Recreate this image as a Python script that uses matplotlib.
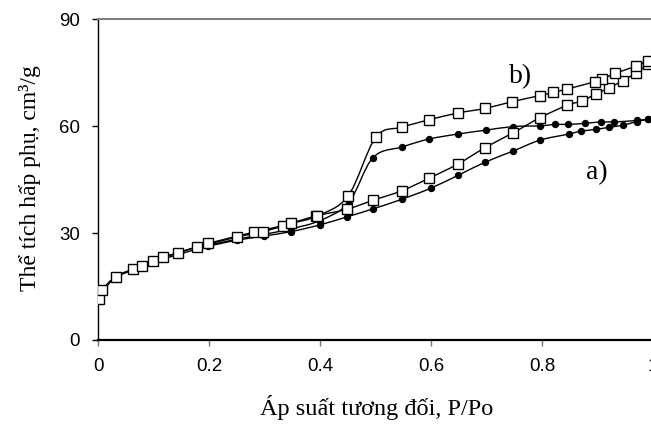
import numpy as np
import matplotlib
matplotlib.use("Agg")
import matplotlib.pyplot as plt
from matplotlib.path import Path
from matplotlib.patches import PathPatch

# sample a) - filled circles
a_ads_x = [0.003, 0.008, 0.031, 0.062, 0.099, 0.144, 0.198, 0.250, 0.299, 0.347, 0.399, 0.449, 0.495,
           0.547, 0.599, 0.648, 0.697, 0.747, 0.796, 0.848, 0.869, 0.896, 0.921, 0.946, 0.970, 0.990]
a_ads_y = [12.5, 13.8, 17.5, 19.6, 21.8, 24.0, 26.3, 28.0, 29.2, 30.4, 32.3, 34.6, 36.8,
           39.5, 42.6, 46.2, 49.9, 53.0, 56.1, 57.8, 58.6, 59.1, 59.7, 60.3, 61.3, 61.9]
a_des_x = [0.990, 0.970, 0.929, 0.905, 0.877, 0.847, 0.823, 0.796, 0.748, 0.699, 0.648, 0.596,
           0.548, 0.495, 0.451, 0.399, 0.347, 0.297, 0.250, 0.198]
a_des_y = [62.0, 61.6, 61.2, 61.2, 60.8, 60.5, 60.5, 60.1, 59.9, 58.9, 57.8, 56.4,
           54.2, 51.2, 38.5, 33.5, 31.2, 29.6, 28.3, 26.6]

# sample b) - open squares
b_ads_x = [0.002, 0.007, 0.031, 0.062, 0.099, 0.144, 0.198, 0.281, 0.332, 0.392, 0.448, 0.495, 0.547,
           0.596, 0.648, 0.697, 0.748, 0.796, 0.845, 0.872, 0.896, 0.921, 0.945, 0.969, 0.990]
b_ads_y = [11.4, 14.0, 17.8, 19.9, 22.2, 24.5, 27.1, 30.3, 32.1, 34.8, 36.7, 39.2, 41.9,
           45.4, 49.4, 54.0, 58.2, 62.4, 65.9, 67.1, 69.0, 70.8, 72.8, 75.0, 77.4]
b_des_x = [0.990, 0.969, 0.931, 0.907, 0.895, 0.844, 0.820, 0.796, 0.746, 0.697, 0.648, 0.596,
           0.547, 0.500, 0.450, 0.394, 0.348, 0.297, 0.250, 0.177, 0.117, 0.078]
b_des_y = [78.4, 76.9, 74.8, 73.2, 72.5, 70.4, 69.5, 68.6, 66.9, 65.0, 63.7, 61.8,
           59.7, 56.9, 40.4, 34.8, 32.7, 30.4, 28.9, 26.0, 23.2, 20.8]

x_ticks = [0, 0.2, 0.4, 0.6, 0.8, 1]
x_ticklabels = ["0", "0.2", "0.4", "0.6", "0.8", "1"]
y_ticks = [0, 30, 60, 90]


def smooth_path(xs, ys):
    # excel-like smoothed line (catmull-rom through the points)
    pts = np.column_stack([xs, ys])
    verts = [pts[0]]
    codes = [Path.MOVETO]
    n = len(pts)
    for i in range(n - 1):
        p0 = pts[i - 1] if i > 0 else pts[i]
        p1 = pts[i]
        p2 = pts[i + 1]
        p3 = pts[i + 2] if i + 2 < n else p2
        verts += [p1 + (p2 - p0) / 6, p2 - (p3 - p1) / 6, p2]
        codes += [Path.CURVE4] * 3
    return Path(verts, codes)


fig = plt.figure(figsize=(6.51, 4.28), dpi=100)
ax = fig.add_axes([98.3 / 651, 88 / 428, 555 / 651, 320.7 / 428])

for xs, ys in [(a_ads_x, a_ads_y), (a_des_x, a_des_y)]:
    ax.add_patch(PathPatch(smooth_path(xs, ys), fill=False, edgecolor='black', lw=1.0, zorder=2))
    ax.plot(xs, ys, ls='none', marker='o', ms=4.3, mfc='black', mec='black', zorder=3)

for xs, ys in [(b_ads_x, b_ads_y), (b_des_x, b_des_y)]:
    ax.add_patch(PathPatch(smooth_path(xs, ys), fill=False, edgecolor='black', lw=1.0, zorder=4))
    ax.plot(xs, ys, ls='none', marker='s', ms=6.8, mfc='white', mec='black', mew=1.0, zorder=5)

ax.set_xlim(0, 1)
ax.set_ylim(0, 90)
ax.set_xticks(x_ticks)
ax.set_xticklabels(x_ticklabels)
ax.set_yticks(y_ticks)

for lab in ax.get_xticklabels() + ax.get_yticklabels():
    lab.set_fontfamily('Liberation Sans')
    lab.set_fontsize(13.5)

ax.tick_params(axis='y', direction='out', length=4, width=1, colors='black', pad=9)
ax.tick_params(axis='x', direction='out', length=4, width=1, color='#777777', labelcolor='black', pad=9)

ax.spines['right'].set_visible(False)
ax.spines['top'].set_color('#808080')
ax.spines['top'].set_linewidth(1.5)
ax.spines['left'].set_linewidth(1.0)
ax.spines['bottom'].set_linewidth(1.6)

ax.set_xlabel("Áp suất tương đối, P/Po", fontfamily='Liberation Serif', fontsize=17.5)
ax.set_ylabel("Thể tích hấp phụ, cm³/g", fontfamily='Liberation Serif', fontsize=17)
ax.xaxis.set_label_coords(0.502, (340 - 408) / 320.7)
ax.xaxis.label.set_va('center')
ax.yaxis.set_label_coords((30 - 98.3) / 555, 0.504)
ax.yaxis.label.set_va('center')

ax.text(0.760, 73.8, "b)", fontfamily='Liberation Serif', fontsize=20, ha='center', va='center')
ax.text(0.898, 46.9, "a)", fontfamily='Liberation Serif', fontsize=20, ha='center', va='center')

fig.savefig("out.png", dpi=100)
